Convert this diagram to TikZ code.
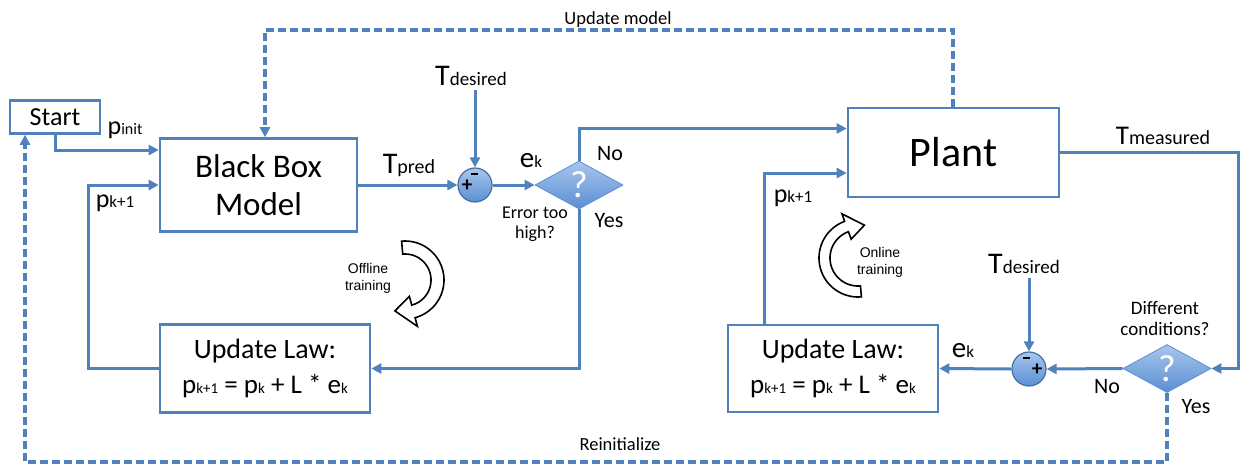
\documentclass[tikz,border=0pt]{standalone}
\usepackage{fontspec}
\setmainfont{Carlito}
\newfontfamily\arialfont{Liberation Sans}
\usetikzlibrary{arrows.meta,shapes.geometric,calc}
\definecolor{flowblue}{HTML}{4F81BD}
\definecolor{shadetop}{HTML}{A9C6EC}
\definecolor{shadebot}{HTML}{5A8FD4}
\newcommand\fsz[1]{\fontsize{#1pt}{#1pt}\selectfont}
\begin{document}
\begin{tikzpicture}[x=1pt,y=-1pt,
  box/.style={draw=flowblue, line width=2.6pt, fill=white, inner sep=0pt, align=center},
  conn/.style={draw=flowblue, line width=3pt},
  arr/.style={conn, -{Triangle[length=10pt,width=10pt]}},
  dsh/.style={conn, line width=3.2pt, dash pattern=on 8pt off 4pt},
  sumnode/.style={circle, minimum size=34pt, inner sep=0pt, draw=flowblue!85!black,
    line width=1.2pt, top color=shadetop, bottom color=shadebot},
  decide/.style={diamond, minimum width=88pt, minimum height=48pt, inner sep=0pt,
    draw=shadebot, line width=0.8pt, top color=shadetop, bottom color=shadebot,
    label={[text=white, font=\fsz{38}]center:?}},
  lbl/.style={inner sep=0pt, text=black, anchor=base},
  sign/.style={inner sep=0pt, text=black, font=\fsz{21}\bfseries},
  curvearrow/.style={draw=black, line width=1.6pt, fill=white, line join=miter},
]
\useasboundingbox (0,0) rectangle (1241,469);

% blocks
\node[box, minimum width=90pt, minimum height=33pt, font=\fsz{26}] (start) at (55,117) {Start};
\node[box, minimum width=197pt, minimum height=93pt, font=\fontsize{33pt}{38pt}\selectfont] (bbm) at (258.5,185) {Black Box\\Model};
\node[box, minimum width=211pt, minimum height=89pt, font=\fsz{42}] (plant) at (953.5,152.5) {Plant};
\node[box, minimum width=210pt, minimum height=88pt, font=\fontsize{28pt}{35pt}\selectfont] (ul1) at (265,368.5)
  {Update Law:\\{\fsz{27}p{\fsz{15}k+1} = p{\fsz{15}k} + L * e{\fsz{15}k}}};
\node[box, minimum width=210pt, minimum height=87pt, font=\fontsize{28pt}{35pt}\selectfont] (ul2) at (833,368.5)
  {Update Law:\\{\fsz{27}p{\fsz{15}k+1} = p{\fsz{15}k} + L * e{\fsz{15}k}}};

% summing junctions
\node[sumnode] (sum1) at (475,185) {};
\node[sumnode] (sum2) at (1029,369) {};

% decisions
\node[decide] (d1) at (579,185) {};
\node[decide] (d2) at (1167,368.5) {};

% routing points
\coordinate (pinitY) at (0,150);
\coordinate (fb1) at (88,185);
\coordinate (noY) at (0,128.5);
\coordinate (up2) at (764,173);
\coordinate (rc) at (1238,368.5);
\coordinate (umL) at (265,30);
\coordinate (umR) at (953,30);
\coordinate (riL) at (25,462);

% solid connectors
\draw[arr] (start.south) |- (bbm.west |- pinitY);
\draw[arr] (ul1.west) -| (fb1) -- (bbm.west |- fb1);
\draw[arr] (bbm.east) -- (sum1.west);
\draw[arr] (sum1.east) -- (d1.west);
\draw[arr] (d1.north) |- (plant.west |- noY);
\draw[arr] (d1.south) |- (ul1.east);
\draw[arr] (plant.east) -| (rc) -- (d2.east);
\draw[arr] (d2.west) -- (sum2.east);
\draw[arr] (sum2.west) -- (ul2.east);
\draw[arr] (ul2.north -| up2) -- (up2) -- (plant.west |- up2);

% desired temperature inputs
\node[lbl] (td1) at (471,85) {\fsz{30}T\fsz{19}desired};
\node[lbl] (td2) at (1024,273) {\fsz{30}T\fsz{19}desired};
\draw[arr, shorten <=5pt] (td1.south -| sum1.north) -- (sum1.north);
\draw[arr, shorten <=5pt] (td2.south -| sum2.north) -- (sum2.north);

% signs on the summing junctions
\node[sign] (sum1m) at (474.5,174) {\rule{7pt}{2.8pt}};
\node[sign] (sum1p) at (467,186) {+};
\node[sign] (sum2m) at (1026,358) {\rule{7pt}{2.8pt}};
\node[sign] (sum2p) at (1037,370) {+};

% dashed feedback paths
\draw[dsh, -{Triangle[length=10pt,width=10pt]}] (plant.north -| umR) -- (umR) -- (umL) -- (bbm.north -| umL);
\draw[dsh, -{Triangle[length=10pt,width=10pt]}] (d2.south) |- (riL) -- (start.south -| riL);

% signal labels
\node[lbl] (lpinit) at (125,134) {\fsz{26}p\fsz{16}init};
\node[lbl] (lpk1) at (115,207) {\fsz{26}p\fsz{17}k+1};
\node[lbl] (ltpred) at (409,173) {\fsz{30}T\fsz{20}pred};
\node[lbl] (lek1) at (531,167) {\fsz{29}e\fsz{17}k};
\node[lbl] (lno1) at (610,160) {\fsz{22}No};
\node[lbl] (lyes1) at (609,227) {\fsz{22}Yes};
\node[inner sep=0pt, align=center, font=\fontsize{18pt}{20pt}\selectfont] (lerr) at (535,224) {Error too\\high?};
\node[lbl] (ltmeas) at (1163,144) {\fsz{27}T\fsz{20}measured};
\node[lbl] (lpk2) at (793,202) {\fsz{26}p\fsz{17}k+1};
\node[inner sep=0pt, align=center, font=\fontsize{19pt}{21pt}\selectfont] (ldiff) at (1165,318) {Different\\conditions?};
\node[lbl] (lno2) at (1107,393) {\fsz{22}No};
\node[lbl] (lyes2) at (1196,413) {\fsz{22}Yes};
\node[lbl] (lek2) at (963,357) {\fsz{29}e\fsz{17}k};
\node[lbl] (lum) at (618,24) {\fsz{18.5}Update model};
\node[lbl] (lri) at (620,450) {\fsz{18.5}Reinitialize};

% offline training loop arrow
\draw[curvearrow]
  plot[domain=-95:75, samples=40] ({405+39*cos(\x)}, {280+39*sin(\x)})
  -- ({405+48*cos(75)}, {280+48*sin(75)})
  -- ({405+32.5*cos(108)}, {280+32.5*sin(108)})
  -- ({405+17*cos(75)}, {280+17*sin(75)})
  -- plot[domain=75:-95, samples=40] ({405+26*cos(\x)}, {280+26*sin(\x)})
  -- cycle;
\node[inner sep=0pt, align=center, font=\arialfont\fontsize{14pt}{17pt}\selectfont] (loff) at (368,278) {Offline\\training};

% online training loop arrow
\draw[curvearrow]
  plot[domain=85:250, samples=40] ({858+39*cos(\x)}, {258+39*sin(\x)})
  -- ({858+47*cos(250)}, {258+47*sin(250)})
  -- ({858+33.5*cos(281)}, {258+33.5*sin(281)})
  -- ({858+20*cos(250)}, {258+20*sin(250)})
  -- plot[domain=250:85, samples=40] ({858+28*cos(\x)}, {258+28*sin(\x)})
  -- cycle;
\node[inner sep=0pt, align=center, font=\arialfont\fontsize{14pt}{17pt}\selectfont] (lon) at (880,262) {Online\\training};
\end{tikzpicture}
\end{document}
